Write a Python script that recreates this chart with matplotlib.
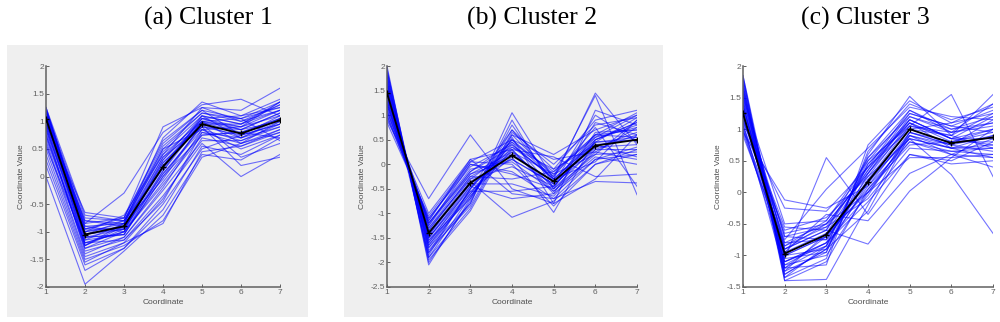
import numpy as np
import matplotlib
matplotlib.use('Agg')
import matplotlib.pyplot as plt
from matplotlib.patches import Rectangle

coords = [1, 2, 3, 4, 5, 6, 7]

# cluster members (one row per sample)
cluster1 = [
    [1.10, -1.05, -0.92, 0.20, 0.98, 0.80, 1.05],
    [0.95, -1.20, -1.00, 0.05, 0.90, 0.75, 1.10],
    [1.20, -0.90, -0.85, 0.35, 1.05, 0.90, 1.20],
    [0.80, -1.30, -1.10, -0.20, 0.85, 0.65, 0.95],
    [1.25, -0.70, -0.80, 0.50, 1.15, 1.00, 1.30],
    [0.60, -1.45, -1.20, -0.40, 0.70, 0.55, 0.85],
    [1.00, -1.10, -0.95, 0.10, 1.00, 0.85, 1.00],
    [0.30, -1.60, -1.30, -0.60, 0.55, 0.40, 0.75],
    [1.15, -0.95, -0.75, 0.60, 1.20, 1.05, 1.25],
    [0.90, -1.15, -1.05, 0.00, 0.95, 0.70, 0.90],
    [0.00, -1.95, -1.35, -0.70, 0.40, 0.30, 0.70],
    [1.05, -0.85, -0.30, 0.80, 1.30, 1.40, 1.10],
    [0.70, -1.25, -0.90, 0.30, 1.10, 0.95, 1.35],
    [1.20, -1.00, -0.70, 0.40, 1.00, 0.60, 0.80],
    [0.85, -1.35, -1.15, -0.35, 0.60, 0.00, 0.40],
    [1.10, -0.80, -0.85, 0.70, 1.35, 1.10, 1.40],
    [0.50, -1.50, -1.25, -0.80, 0.35, 0.60, 1.00],
    [1.00, -1.05, -0.90, 0.25, 0.90, 0.20, 0.35],
    [1.25, -0.95, -0.80, 0.15, 1.05, 0.85, 1.15],
    [0.75, -1.20, -1.00, -0.10, 0.80, 0.70, 1.05],
    [0.95, -0.65, -0.75, 0.90, 1.25, 1.20, 1.60],
    [1.15, -1.10, -1.05, 0.00, 0.75, 0.80, 0.70],
    [0.20, -1.70, -1.30, -0.50, 0.50, 0.75, 0.95],
    [1.05, -1.00, -0.85, 0.45, 1.10, 0.95, 1.20],
    [0.90, -1.25, -0.95, 0.05, 0.85, 0.50, 0.75],
    [1.20, -0.75, -0.80, 0.55, 1.15, 1.05, 1.35],
    [0.65, -1.40, -1.10, -0.25, 0.65, 0.65, 0.90],
    [1.00, -0.90, -1.00, 0.30, 1.00, 0.90, 1.10],
    [1.10, -1.15, -0.85, -0.05, 0.95, 0.35, 0.60],
    [0.85, -1.05, -0.95, 0.20, 1.05, 1.10, 1.25],
    [1.20, -0.85, -0.75, 0.65, 1.20, 0.75, 0.95],
    [0.40, -1.55, -1.20, -0.85, 0.45, 0.55, 0.80],
    [1.05, -1.00, -0.90, 0.35, 0.90, 0.85, 1.15],
    [0.95, -1.10, -1.05, 0.10, 1.10, 0.70, 1.00],
    [1.15, -0.95, -0.95, 0.25, 0.95, 0.95, 1.30],
    [0.75, -1.30, -1.00, -0.15, 0.75, 0.80, 1.05],
    [1.25, -1.05, -0.80, 0.40, 1.25, 1.00, 1.20],
    [0.55, -1.20, -1.15, -0.45, 0.80, 0.60, 0.85],
    [1.00, -0.80, -0.90, 0.15, 1.00, 1.05, 0.65],
    [1.10, -1.25, -0.85, 0.50, 0.85, 0.90, 1.35],
]
cluster2 = [
    [1.45, -1.40, -0.40, 0.20, -0.35, 0.40, 0.50],
    [1.90, -1.80, -0.50, 0.40, -0.30, 0.50, 0.80],
    [1.20, -1.20, -0.20, 0.10, -0.40, 0.30, 0.30],
    [1.60, -1.60, -0.60, 0.50, -0.20, 0.60, 0.70],
    [1.00, -1.10, 0.00, -0.20, -0.50, 0.20, 0.90],
    [2.00, -2.05, -0.70, 0.70, -0.10, 0.90, 1.10],
    [1.30, -1.30, -0.30, 0.30, -0.60, 0.10, 0.20],
    [0.90, -0.70, 0.60, -0.50, -0.80, -0.30, 0.60],
    [1.70, -1.70, -0.80, 1.05, -0.30, 1.45, 0.40],
    [1.50, -1.50, -0.45, 0.25, -0.45, 0.45, 0.55],
    [1.10, -1.15, 0.10, -0.60, -0.70, -0.35, -0.38],
    [1.80, -1.90, -0.90, 0.60, 0.20, 0.70, 1.00],
    [1.40, -1.45, -0.35, -1.08, -0.75, 0.00, 0.30],
    [1.25, -1.25, -0.15, 0.35, -0.25, 1.40, -0.62],
    [1.65, -1.55, -0.55, 0.15, -0.98, 0.50, 0.85],
    [0.85, -1.05, 0.05, 0.50, 0.10, 0.25, 0.10],
    [1.55, -1.65, -0.65, 0.45, -0.50, 0.35, 0.65],
    [1.35, -1.35, -0.25, -0.30, -0.15, 0.55, 0.75],
    [1.95, -2.00, -0.75, 0.80, -0.40, 1.00, 0.45],
    [1.15, -1.20, -0.10, 0.05, -0.55, 0.15, 0.00],
    [1.75, -1.75, -0.85, 0.65, 0.00, 0.80, 0.95],
    [1.45, -1.50, -0.40, -0.40, -0.65, 0.30, 0.60],
    [1.05, -1.00, 0.10, 0.30, 0.15, -0.25, -0.20],
    [1.60, -1.85, -0.50, 0.70, -0.35, 0.60, 1.05],
    [1.30, -1.40, -0.30, -0.05, -0.45, 0.45, 0.50],
    [1.85, -1.95, -0.95, 0.55, -0.80, 1.10, 0.80],
    [1.20, -1.30, -0.20, 0.25, -0.20, 0.20, 0.25],
    [1.50, -1.60, -0.45, -0.70, -0.60, 0.65, 0.70],
    [0.95, -1.10, -0.05, 0.40, -0.30, 0.05, 0.90],
    [1.70, -1.70, -0.60, 0.35, -0.10, 0.40, 0.15],
    [1.40, -1.45, -0.35, 0.10, -0.40, 0.55, 1.00],
    [1.55, -1.55, -0.70, 0.60, -0.25, 0.75, -0.45],
    [1.10, -1.25, 0.00, -0.15, -0.70, 0.10, 0.35],
    [1.80, -1.80, -0.80, 0.90, -0.50, 0.85, 0.60],
    [1.25, -1.35, -0.25, 0.20, -0.35, 0.35, 0.40],
    [1.65, -1.65, -0.55, -0.55, -0.45, 0.50, 0.85],
    [1.35, -1.20, -0.15, 0.45, -0.15, 0.60, 0.55],
    [1.90, -1.90, -0.65, 0.30, -0.55, 0.25, 0.75],
    [1.00, -1.15, 0.05, 0.00, -0.85, 0.00, 0.20],
    [1.50, -1.50, -0.50, 0.50, -0.30, 0.45, 0.95],
]
cluster3 = [
    [1.25, -0.97, -0.67, 0.17, 1.00, 0.78, 0.87],
    [1.80, -1.30, -0.90, 0.30, 1.20, 0.95, 1.10],
    [1.00, -0.80, -0.50, 0.00, 0.90, 0.70, 0.70],
    [1.50, -1.10, -0.80, 0.45, 1.10, 0.85, 1.00],
    [0.95, -0.12, -0.25, 0.10, 0.80, 0.60, 0.55],
    [1.65, -1.40, -1.38, -0.20, 0.95, 0.75, 0.90],
    [1.10, -0.25, -0.30, 0.40, 1.30, 1.00, 1.20],
    [1.40, -1.05, 0.55, -0.35, 0.60, 0.50, 0.80],
    [1.85, -1.20, -1.15, 0.75, 1.45, 1.10, 1.40],
    [1.20, -0.90, -0.60, -0.82, 0.02, 0.55, 0.60],
    [1.30, -0.70, -0.75, 0.20, 1.05, 1.55, 0.25],
    [1.60, -1.25, -0.95, 0.60, 1.52, 0.90, 1.55],
    [1.05, -0.60, -0.40, 0.25, 0.85, 0.28, -0.65],
    [1.45, -1.00, -0.70, 0.05, 0.75, 0.80, 0.95],
    [1.70, -1.35, -0.85, 0.50, 1.25, 1.05, 1.30],
    [0.90, -0.85, -0.55, -0.10, 0.70, 0.65, 0.70],
    [1.35, -0.95, -0.65, 0.35, 1.15, 0.85, 0.85],
    [1.55, -1.15, -1.00, 0.00, 0.55, 0.55, 1.00],
    [1.15, -0.75, 0.05, 0.70, 1.35, 1.20, 1.15],
    [1.75, -1.30, -0.90, -0.30, 0.90, 0.75, 0.65],
    [1.25, -1.00, -0.70, 0.15, 1.00, 0.90, 1.25],
    [1.50, -0.50, -0.45, 0.40, 1.10, 0.70, 0.75],
    [1.00, -1.10, -0.80, -0.15, 0.60, 0.45, 0.50],
    [1.60, -0.90, -0.60, 0.55, 1.20, 1.00, 1.10],
    [1.40, -1.20, -0.85, 0.10, 0.95, 0.80, 0.80],
    [1.20, -0.65, -0.50, 0.30, 1.05, 0.95, 1.05],
    [1.80, -1.35, -1.05, 0.65, 1.40, 1.15, 1.35],
    [0.95, -0.95, -0.35, -0.45, 0.30, 0.60, 0.40],
    [1.35, -0.80, -0.75, 0.20, 0.85, 0.70, 0.90],
    [1.65, -1.05, -0.95, 0.45, 1.15, 0.85, 1.20],
    [1.10, -1.25, -0.65, 0.00, 0.80, 0.65, 0.60],
    [1.45, -0.70, -0.55, 0.35, 1.25, 1.05, 0.95],
    [1.30, -1.15, -0.80, -0.05, 0.95, 0.75, 1.15],
    [1.55, -0.85, -0.45, 0.50, 1.05, 0.90, 0.70],
    [1.05, -1.00, -0.90, 0.15, 0.90, 0.60, 0.85],
    [1.70, -1.20, -0.70, 0.25, 1.10, 0.80, 1.00],
    [1.15, -0.55, -0.60, 0.40, 1.00, 1.10, 1.25],
    [1.85, -1.40, -1.10, 0.05, 0.85, 0.70, 0.55],
    [1.25, -0.90, -0.50, 0.30, 1.15, 0.85, 0.75],
    [1.40, -1.10, -0.85, 0.55, 1.30, 0.95, 1.40],
]

# cluster centres (black lines)
centre1 = [1.05, -1.05, -0.90, 0.18, 0.95, 0.78, 1.02]
centre2 = [1.45, -1.40, -0.38, 0.18, -0.35, 0.38, 0.50]
centre3 = [1.25, -0.97, -0.67, 0.17, 1.00, 0.78, 0.87]

titles = ['(a) Cluster 1', '(b) Cluster 2', '(c) Cluster 3']
ylims = [(-2, 2), (-2.5, 2), (-1.5, 2)]
yticks = [
    [-2, -1.5, -1, -0.5, 0, 0.5, 1, 1.5, 2],
    [-2.5, -2, -1.5, -1, -0.5, 0, 0.5, 1, 1.5, 2],
    [-1.5, -1, -0.5, 0, 0.5, 1, 1.5, 2],
]

fig = plt.figure(figsize=(10, 3.22), dpi=100)
fig.patch.set_facecolor('white')

# matlab figure backgrounds behind the first two panels
gray = '#efefef'
bg_a = Rectangle((0.007, 0.0155), 0.301, 0.845, transform=fig.transFigure,
                 facecolor=gray, edgecolor='none', zorder=-10)
bg_b = Rectangle((0.344, 0.0155), 0.319, 0.845, transform=fig.transFigure,
                 facecolor=gray, edgecolor='none', zorder=-10)
fig.add_artist(bg_a)
fig.add_artist(bg_b)

boxes = [(0.046, 0.1087, 0.234, 0.686),
         (0.387, 0.1087, 0.250, 0.686),
         (0.743, 0.1087, 0.250, 0.686)]
title_x = [0.208, 0.532, 0.865]
members = [cluster1, cluster2, cluster3]
centres = [centre1, centre2, centre3]
txt_col = '#505050'
small = dict(fontsize=6, color=txt_col, family='Liberation Sans')

for i in range(3):
    ax = fig.add_axes(boxes[i])
    ax.set_facecolor('none')
    for row in members[i]:
        ax.plot(coords, row, color='#0000ff', lw=0.8, alpha=0.55, zorder=2)
    ax.plot(coords, centres[i], color='black', lw=1.3, marker='+', ms=4, mew=1, zorder=3)
    ax.set_xlim(1, 7)
    ax.set_ylim(*ylims[i])
    ax.set_xticks(coords)
    ax.set_xticklabels([str(c) for c in coords], **small)
    ax.set_yticks(yticks[i])
    ax.set_yticklabels(['%g' % v for v in yticks[i]], **small)
    for s in ['top', 'right']:
        ax.spines[s].set_visible(False)
    for s in ['left', 'bottom']:
        ax.spines[s].set_color('#606060')
        ax.spines[s].set_linewidth(1.1)
    ax.tick_params(direction='in', length=2.5, width=0.7, colors='#606060', pad=1.5)
    ax.set_xlabel('Coordinate', labelpad=2, **small)
    ax.set_ylabel('Coordinate Value', labelpad=3, **small)
    fig.text(title_x[i], 0.944, titles[i], ha='center', va='center',
             fontsize=18.5, family='Liberation Serif')

fig.savefig('out.png', dpi=100, facecolor=fig.get_facecolor())
